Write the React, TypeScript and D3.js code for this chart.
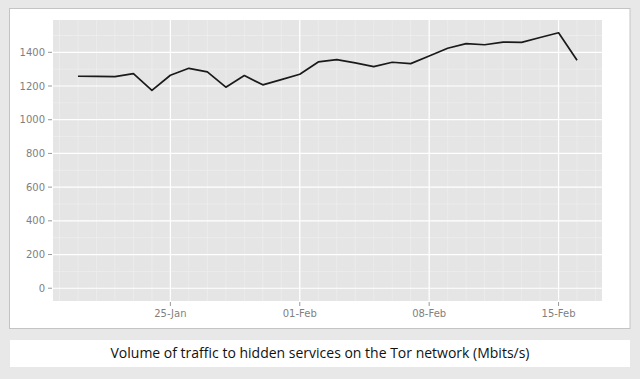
import React from "react";
import * as d3 from "d3";

const dates: string[] = [
  "2014-01-20","2014-01-21","2014-01-22","2014-01-23","2014-01-24","2014-01-25","2014-01-26",
  "2014-01-27","2014-01-28","2014-01-29","2014-01-30","2014-01-31","2014-02-01","2014-02-02",
  "2014-02-03","2014-02-04","2014-02-05","2014-02-06","2014-02-07","2014-02-08","2014-02-09",
  "2014-02-10","2014-02-11","2014-02-12","2014-02-13","2014-02-14","2014-02-15","2014-02-16",
];
const traffic: number[] = [
  1258, 1257, 1256, 1274, 1174, 1264, 1305,
  1284, 1193, 1262, 1207, 1238, 1270, 1343,
  1357, 1337, 1315, 1341, 1333, 1378, 1424,
  1452, 1445, 1461, 1459, 1488, 1516, 1353,
];
const yTicks: number[] = [0, 200, 400, 600, 800, 1000, 1200, 1400];
const xTickDates: string[] = ["2014-01-25", "2014-02-01", "2014-02-08", "2014-02-15"];
const caption = "Volume of traffic to hidden services on the Tor network (Mbits/s)";

const W = 640, H = 379;
const panel = { x0: 53, x1: 602, y0: 20, y1: 301 };

export default function App() {
  const parse = d3.utcParse("%Y-%m-%d");
  const data = dates.map((d, i) => ({ date: parse(d) as Date, v: traffic[i] }));
  const ext = d3.extent(data, (d) => d.date) as [Date, Date];
  const span = +ext[1] - +ext[0];
  const x = d3
    .scaleUtc()
    .domain([new Date(+ext[0] - span * 0.05), new Date(+ext[1] + span * 0.05)])
    .range([panel.x0, panel.x1]);
  const yMax = d3.max(traffic) as number;
  const yMin = 0;
  const ypad = (yMax - yMin) * 0.05;
  const y = d3.scaleLinear().domain([yMin - ypad, yMax + ypad]).range([panel.y1, panel.y0]);

  const days = d3.utcDay.range(d3.utcDay.ceil(x.domain()[0]), x.domain()[1]);
  const xMajor = xTickDates.map((d) => parse(d) as Date);
  const minorY = d3.range(-100, 1700, 100).filter((v) => v % 200 !== 0 && v > y.domain()[0] && v < y.domain()[1]);
  const line = d3
    .line<{ date: Date; v: number }>()
    .x((d) => x(d.date))
    .y((d) => y(d.v));
  const fmt = d3.utcFormat("%d-%b");
  const tickColor = "#7f7f7f";

  return (
    <svg width={W} height={H} style={{ position: "absolute", left: 0, top: 0 }}>
      <rect x={0} y={0} width={W} height={H} fill="#e8e8e8" />
      <rect x={9.5} y={8.5} width={620.5} height={320} fill="#ffffff" stroke="#c4c4c4" strokeWidth={1} />
      <rect x={panel.x0} y={panel.y0} width={panel.x1 - panel.x0} height={panel.y1 - panel.y0} fill="#e5e5e5" />
      {days.map((d, i) => (
        <line key={"vx" + i} x1={x(d)} x2={x(d)} y1={panel.y0} y2={panel.y1} stroke="#f0f0f0" strokeWidth={0.6} />
      ))}
      {minorY.map((v, i) => (
        <line key={"my" + i} x1={panel.x0} x2={panel.x1} y1={y(v)} y2={y(v)} stroke="#f0f0f0" strokeWidth={0.6} />
      ))}
      {yTicks.map((v, i) => (
        <line key={"Y" + i} x1={panel.x0} x2={panel.x1} y1={y(v)} y2={y(v)} stroke="#ffffff" strokeWidth={1.2} />
      ))}
      {xMajor.map((d, i) => (
        <line key={"X" + i} x1={x(d)} x2={x(d)} y1={panel.y0} y2={panel.y1} stroke="#ffffff" strokeWidth={1.2} />
      ))}
      <path d={line(data) as string} fill="none" stroke="#1a1a1a" strokeWidth={1.7} strokeLinejoin="round" />
      {yTicks.map((v, i) => (
        <g key={"yt" + i}>
          <line x1={panel.x0 - 5} x2={panel.x0 - 1} y1={y(v)} y2={y(v)} stroke={tickColor} strokeWidth={0.8} />
          <text x={panel.x0 - 8} y={y(v)} dy="0.35em" textAnchor="end" fontFamily="DejaVu Sans" fontSize={10} fill={tickColor}>
            {v}
          </text>
        </g>
      ))}
      {xMajor.map((d, i) => (
        <g key={"xt" + i}>
          <line x1={x(d)} x2={x(d)} y1={panel.y1 + 1} y2={panel.y1 + 5} stroke={tickColor} strokeWidth={0.8} />
          <text x={x(d)} y={panel.y1 + 16} textAnchor="middle" fontFamily="DejaVu Sans" fontSize={10} fill={tickColor}>
            {fmt(d)}
          </text>
        </g>
      ))}
      <rect x={10} y={340} width={620} height={27} fill="#ffffff" />
      <text x={320} y={358} textAnchor="middle" fontFamily="Open Sans" fontSize={14} fill="#111">
        {caption}
      </text>
    </svg>
  );
}
